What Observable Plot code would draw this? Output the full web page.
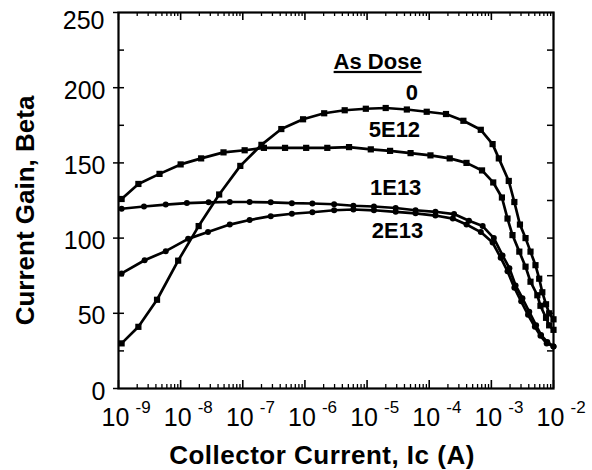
<!DOCTYPE html>
<html>
<head>
<meta charset="utf-8">
<script src="https://cdn.jsdelivr.net/npm/d3@7"></script>
<script src="https://cdn.jsdelivr.net/npm/@observablehq/plot@0.6"></script>
<style>
  html, body { margin: 0; padding: 0; background: #fff; }
  #chart svg text { font-family: "Liberation Sans", Arial, Helvetica, sans-serif; }
</style>
</head>
<body>
<div id="chart"></div>
<script>
// ---- Data (log10 of collector current in A, and current gain beta) ----
const doses = ["0", "5E12", "1E13", "2E13"];

const logIc_0 = [-8.95,-8.68,-8.38,-8.04,-7.71,-7.38,-7.04,-6.70,-6.38,-6.03,-5.69,-5.36,-5.02,-4.70,-4.36,-4.04,-3.73,-3.45,-3.17,-2.98,-2.88,-2.72,-2.63,-2.54,-2.45,-2.37,-2.29,-2.23,-2.18,-2.12,-2.07,-2.00];
const beta_0  = [30,41,59,85,108,129,148,162,172.5,179,183,185,186,186.5,185.5,184,182.5,178,172,162.5,153,138,124,109,100,91,82,73,64,56,50,46];

const logIc_5E12 = [-8.95,-8.68,-8.34,-8.00,-7.67,-7.31,-6.97,-6.66,-6.32,-5.98,-5.64,-5.29,-4.94,-4.63,-4.30,-3.98,-3.67,-3.40,-3.15,-2.97,-2.83,-2.74,-2.66,-2.55,-2.45,-2.37,-2.26,-2.21,-2.12,-2.07,-2.00];
const beta_5E12  = [126,136,142.7,149,153,157,158.4,160,160,160,160,160.5,159,158,156.5,155,153,150,145,137,127,113,102,91,81,71,62,55,47,42,39];

const logIc_1E13 = [-8.95,-8.59,-8.24,-7.90,-7.55,-7.21,-6.89,-6.55,-6.21,-5.88,-5.53,-5.22,-4.89,-4.54,-4.22,-3.90,-3.60,-3.36,-3.14,-2.96,-2.82,-2.71,-2.61,-2.50,-2.39,-2.28,-2.20,-2.10,-2.00];
const beta_1E13  = [119.5,121,122.3,123.3,123.8,124,124,123.8,123.2,123,122.5,121.5,121,120,118.5,117.5,116,111.5,108,100,88.5,80,68.5,60,51,42,35.5,31,28];

const logIc_2E13 = [-8.95,-8.58,-8.24,-7.88,-7.56,-7.21,-6.89,-6.55,-6.21,-5.88,-5.53,-5.22,-4.89,-4.54,-4.22,-3.90,-3.62,-3.40,-3.17,-2.98,-2.85,-2.74,-2.63,-2.52,-2.41,-2.30,-2.21,-2.11,-2.00];
const beta_2E13  = [76.5,85.3,91.3,99.5,104,109,112,114.6,116.2,117.2,118.5,119,118.5,117.5,116.5,115,113,109,104,97,87,78,67,58,49,41,35,30,28];

const squareDoses = ["0", "5E12"];

// axis ticks
const yTickValues = [0, 50, 100, 150, 200, 250];
const yTicks25 = [25, 50, 75, 100, 125, 150, 175, 200, 225];
const decades = [-9, -8, -7, -6, -5, -4, -3, -2];

// text
const xTitle = "Collector Current, Ic (A)";
const yTitle = "Current Gain, Beta";
const annoText  = ["As Dose", "0", "5E12", "1E13", "2E13"];
const annoLogIc = [-4.83, -4.28, -4.56, -4.54, -4.51];
const annoBeta  = [212.5, 191.5, 167, 128.5, 100];

// ---- Build table ----
const series = {
  "0": [logIc_0, beta_0],
  "5E12": [logIc_5E12, beta_5E12],
  "1E13": [logIc_1E13, beta_1E13],
  "2E13": [logIc_2E13, beta_2E13]
};
const rows = [];
for (const dose of doses) {
  const [ls, bs] = series[dose];
  ls.forEach((l, i) => rows.push({dose, ic: Math.pow(10, l), beta: bs[i]}));
}
const xMajor = decades.map(d => Math.pow(10, d));
const xMinor = [];
for (const d of decades.slice(0, -1)) for (let k = 2; k <= 9; k++) xMinor.push(k * Math.pow(10, d));
const yTopLabel = yTickValues.slice(-1);
const yOtherLabels = yTickValues.slice(0, -1);

// ---- Layout ----
const W = 592, H = 470;
const mL = 118, mR = 39, mT = 12, mB = 82;
const frameW = W - mL - mR;
const frameH = H - mT - mB;
const font = "Liberation Sans, Arial, Helvetica, sans-serif";

const chart = Plot.plot({
  width: W, height: H,
  marginLeft: mL, marginRight: mR, marginTop: mT, marginBottom: mB,
  x: {type: "log", domain: [1e-9, 1e-2], axis: null},
  y: {domain: [0, 250], axis: null},
  style: {fontFamily: font, background: "white", color: "black"},
  marks: [
    // tick marks
    Plot.tickX(xMinor, {x: d => d, insetTop: frameH - 4, stroke: "black", strokeWidth: 1.3}),
    Plot.tickX(xMajor, {x: d => d, insetTop: frameH - 8, stroke: "black", strokeWidth: 1.6}),
    Plot.tickX(xMinor, {x: d => d, insetBottom: frameH - 4, stroke: "black", strokeWidth: 1.3}),
    Plot.tickX(xMajor, {x: d => d, insetBottom: frameH - 8, stroke: "black", strokeWidth: 1.6}),
    Plot.tickY(yTicks25, {y: d => d, insetRight: frameW - 6, stroke: "black", strokeWidth: 1.5}),
    Plot.tickY(yTicks25, {y: d => d, insetLeft: frameW - 6, stroke: "black", strokeWidth: 1.5}),
    Plot.tickY(yTickValues, {y: d => d, insetLeft: -5, insetRight: frameW, stroke: "black", strokeWidth: 1.5}),
    // curves
    Plot.line(rows, {x: "ic", y: "beta", z: "dose", stroke: "black", strokeWidth: 2.7}),
    Plot.dot(rows.filter(d => squareDoses.includes(d.dose)), {x: "ic", y: "beta", symbol: "square", r: 3.5, fill: "black", stroke: "none"}),
    Plot.dot(rows.filter(d => !squareDoses.includes(d.dose)), {x: "ic", y: "beta", symbol: "circle", r: 3, fill: "black", stroke: "none"}),
    Plot.frame({stroke: "black", strokeWidth: 2.2}),
    // y tick labels
    Plot.text(yOtherLabels, {y: d => d, frameAnchor: "left", text: d => String(d), textAnchor: "end", dx: -13, dy: 3, fontSize: 25, fill: "black"}),
    Plot.text(yTopLabel, {y: d => d, frameAnchor: "left", text: d => String(d), textAnchor: "end", dx: -14, dy: 8, fontSize: 25, fill: "black"}),
    // x tick labels: 10 with superscript exponent
    Plot.text(decades, {x: d => Math.pow(10, d), frameAnchor: "bottom", text: () => "10", textAnchor: "middle", lineAnchor: "bottom", dx: -3, dy: 37, fontSize: 25, fill: "black"}),
    Plot.text(decades, {x: d => Math.pow(10, d), frameAnchor: "bottom", text: d => String(d), textAnchor: "start", lineAnchor: "bottom", dx: 17, dy: 24, fontSize: 17, fill: "black"}),
    // axis titles
    Plot.text([xTitle], {frameAnchor: "bottom", text: d => d, textAnchor: "middle", lineAnchor: "bottom", dx: -14, dy: 75, fontSize: 26, fontWeight: "bold", fill: "black"}),
    Plot.text([yTitle], {frameAnchor: "left", text: d => d, rotate: -90, textAnchor: "middle", lineAnchor: "bottom", dx: -85, dy: 10, fontSize: 26, fontWeight: "bold", fill: "black"}),
    // legend annotations
    Plot.text(annoText, {x: (d, i) => Math.pow(10, annoLogIc[i]), y: (d, i) => annoBeta[i], text: d => d, lineAnchor: "bottom", textAnchor: "middle", fontSize: 22, fontWeight: "bold", fill: "black"})
  ]
});

const svg = d3.select(chart);
svg.selectAll("text").filter(function() { return this.textContent === "As Dose"; })
  .style("text-decoration", "underline");
svg.selectAll("text").filter(function() { return this.textContent === xTitle; })
  .style("letter-spacing", "0.5px");

document.getElementById("chart").appendChild(chart);
</script>
</body>
</html>
